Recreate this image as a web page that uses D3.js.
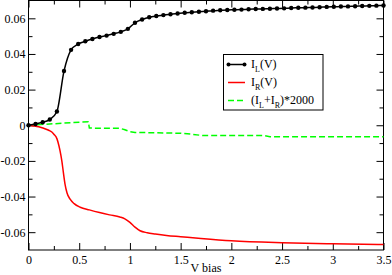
<!DOCTYPE html>
<html>
<head>
<meta charset="utf-8">
<script src="https://cdn.jsdelivr.net/npm/d3@7"></script>
<style>
  html, body { margin: 0; padding: 0; background: #fff; }
  svg { display: block; }
  text { font-family: "Liberation Serif", "DejaVu Serif", serif; fill: #000; }
</style>
</head>
<body>
<div id="chart"></div>
<script>
// I_L(V) sampled points (dots), V in volts
const vL = [0, 0.07, 0.14, 0.21, 0.28, 0.35, 0.42, 0.49, 0.56, 0.63, 0.70, 0.77, 0.84, 0.91, 0.98,
  1.05, 1.12, 1.19, 1.26, 1.33, 1.40, 1.47, 1.54, 1.61, 1.68, 1.75, 1.82, 1.89, 1.96, 2.03, 2.10,
  2.17, 2.24, 2.31, 2.38, 2.45, 2.52, 2.59, 2.66, 2.73, 2.80, 2.87, 2.94, 3.01, 3.08, 3.15, 3.22,
  3.29, 3.36, 3.43, 3.50];
const iL = [0, 0.0007, 0.0017, 0.0032, 0.0077, 0.0304, 0.0423, 0.0456, 0.0471, 0.0484, 0.0495,
  0.0503, 0.0513, 0.0524, 0.0541, 0.0575, 0.0593, 0.0606, 0.0613, 0.0618, 0.0623, 0.0627, 0.0631,
  0.0634, 0.0637, 0.0640, 0.0643, 0.0645, 0.0647, 0.0648, 0.0649, 0.0651, 0.0652, 0.0653, 0.0654,
  0.0655, 0.0656, 0.0658, 0.0659, 0.0660, 0.0661, 0.0662, 0.0664, 0.0665, 0.0666, 0.0667, 0.0668,
  0.0669, 0.0670, 0.0671, 0.0672];

// I_R(V)
const vR = [0, 0.05, 0.10, 0.15, 0.20, 0.23, 0.25, 0.28, 0.30, 0.32, 0.33, 0.345, 0.36, 0.38, 0.41,
  0.45, 0.51, 0.60, 0.70, 0.80, 0.90, 0.95, 1.00, 1.05, 1.10, 1.17, 1.25, 1.36, 1.50, 1.70, 2.00,
  2.50, 3.00, 3.50];
const iR = [0, -0.0004, -0.0009, -0.0017, -0.0028, -0.0038, -0.0050, -0.0075, -0.0115, -0.0170,
  -0.0205, -0.0270, -0.0330, -0.0380, -0.0415, -0.0440, -0.0460, -0.0475, -0.0490, -0.0503,
  -0.0515, -0.0525, -0.0545, -0.0572, -0.0592, -0.0603, -0.0610, -0.0618, -0.0625, -0.0635,
  -0.0648, -0.0659, -0.0665, -0.0669];

// (I_L+I_R)*2000
const vS = [0, 0.59, 0.60, 0.90, 0.95, 1.00, 1.05, 1.50, 1.62, 1.72, 2.33, 2.38, 3.50];
const iS = [0, 0.0020, -0.0016, -0.0017, -0.0025, -0.0036, -0.0040, -0.0045, -0.0051, -0.0058,
  -0.0058, -0.0064, -0.0064];

const xTicks = [0, 0.5, 1, 1.5, 2, 2.5, 3, 3.5];
const xMinor = [0.25, 0.75, 1.25, 1.75, 2.25, 2.75, 3.25];
const yTicks = [-0.06, -0.04, -0.02, 0, 0.02, 0.04, 0.06];
const yMinor = [-0.05, -0.03, -0.01, 0.01, 0.03, 0.05];
const seriesNames = ["I_L(V)", "I_R(V)", "(I_L+I_R)*2000"];

const W = 392, H = 275;
const mLeft = 28.5, mRight = 383.5, mTop = 0.5, mBottom = 250;

const x = d3.scaleLinear().domain([0, 3.5]).range([mLeft, mRight]);
const y = d3.scaleLinear().domain([-0.07, 0.07]).range([mBottom, mTop]);

const svg = d3.select("#chart").append("svg").attr("width", W).attr("height", H);

// axes, ticks pointing inward on all sides
const fmtY = d => d === 0 ? "0" : d.toFixed(2);
const fmtX = d => String(d);

function styleAxis(g) {
  g.select(".domain").remove();
  g.selectAll(".tick line").attr("stroke", "#000").attr("stroke-width", 1);
  g.selectAll(".tick text").style("font-size", "12px")
    .style("font-family", "'Liberation Serif', serif").attr("fill", "#000");
}

svg.append("g").attr("transform", `translate(0,${mBottom})`)
  .call(d3.axisBottom(x).tickValues(xTicks).tickFormat(fmtX).tickSize(-7).tickPadding(5))
  .call(styleAxis);
svg.append("g").attr("transform", `translate(0,${mBottom})`)
  .call(d3.axisBottom(x).tickValues(xMinor).tickFormat("").tickSize(-4))
  .call(styleAxis);
svg.append("g").attr("transform", `translate(0,${mTop})`)
  .call(d3.axisTop(x).tickValues(xTicks).tickFormat("").tickSize(-7))
  .call(styleAxis);
svg.append("g").attr("transform", `translate(0,${mTop})`)
  .call(d3.axisTop(x).tickValues(xMinor).tickFormat("").tickSize(-4))
  .call(styleAxis);

svg.append("g").attr("transform", `translate(${mLeft},0)`)
  .call(d3.axisLeft(y).tickValues(yTicks).tickFormat(fmtY).tickSize(-7).tickPadding(3))
  .call(styleAxis);
svg.append("g").attr("transform", `translate(${mLeft},0)`)
  .call(d3.axisLeft(y).tickValues(yMinor).tickFormat("").tickSize(-4))
  .call(styleAxis);
svg.append("g").attr("transform", `translate(${mRight},0)`)
  .call(d3.axisRight(y).tickValues(yTicks).tickFormat("").tickSize(-7))
  .call(styleAxis);
svg.append("g").attr("transform", `translate(${mRight},0)`)
  .call(d3.axisRight(y).tickValues(yMinor).tickFormat("").tickSize(-4))
  .call(styleAxis);

svg.append("rect")
  .attr("x", mLeft).attr("y", mTop)
  .attr("width", mRight - mLeft).attr("height", mBottom - mTop)
  .attr("fill", "none").attr("stroke", "#000").attr("stroke-width", 1);

svg.append("text")
  .attr("x", (mLeft + mRight) / 2).attr("y", 272)
  .attr("text-anchor", "middle").style("font-size", "12px")
  .text("V bias");

// curves
const dataL = vL.map((v, i) => [v, iL[i]]);
const dataR = vR.map((v, i) => [v, iR[i]]);
const dataS = vS.map((v, i) => [v, iS[i]]);

const line = d3.line().x(d => x(d[0])).y(d => y(d[1]));

svg.append("path").datum(dataS)
  .attr("d", line.curve(d3.curveLinear))
  .attr("fill", "none").attr("stroke", "#00ff00").attr("stroke-width", 1.5)
  .attr("stroke-dasharray", "6,3");

svg.append("path").datum(dataR)
  .attr("d", line.curve(d3.curveMonotoneX))
  .attr("fill", "none").attr("stroke", "#ff0000").attr("stroke-width", 1.5);

svg.append("path").datum(dataL)
  .attr("d", line.curve(d3.curveMonotoneX))
  .attr("fill", "none").attr("stroke", "#000").attr("stroke-width", 1.5);

svg.append("g").selectAll("circle").data(dataL).join("circle")
  .attr("cx", d => x(d[0])).attr("cy", d => y(d[1])).attr("r", 2.2).attr("fill", "#000");

// legend
const lg = svg.append("g");
lg.append("rect").attr("x", 223.5).attr("y", 54.5).attr("width", 99.5).attr("height", 55.5)
  .attr("fill", "#fff").attr("stroke", "#000").attr("stroke-width", 1);

const legendStyle = [
  { color: "#000", dash: null, dots: true },
  { color: "#ff0000", dash: null, dots: false },
  { color: "#00ff00", dash: "6,3", dots: false }
];

seriesNames.forEach((name, i) => {
  const cy = 64.5 + i * 18;
  const st = legendStyle[i];
  lg.append("line").attr("x1", 228).attr("x2", 245).attr("y1", cy).attr("y2", cy)
    .attr("stroke", st.color).attr("stroke-width", 1.5)
    .attr("stroke-dasharray", st.dash);
  if (st.dots) {
    [228.5, 244.5].forEach(px => lg.append("circle").attr("cx", px).attr("cy", cy)
      .attr("r", 2).attr("fill", "#000"));
  }
  const t = lg.append("text").attr("x", 251).attr("y", cy + 3).style("font-size", "12px");
  // split on "_X" subscripts
  const parts = name.split(/(_[A-Z])/).filter(p => p.length);
  let sub = false;
  parts.forEach(p => {
    if (p.startsWith("_")) {
      t.append("tspan").attr("dy", 4).style("font-size", "8px").text(p.slice(1));
      sub = true;
    } else {
      t.append("tspan").attr("dy", sub ? -4 : 0).text(p);
      sub = false;
    }
  });
});
</script>
</body>
</html>
